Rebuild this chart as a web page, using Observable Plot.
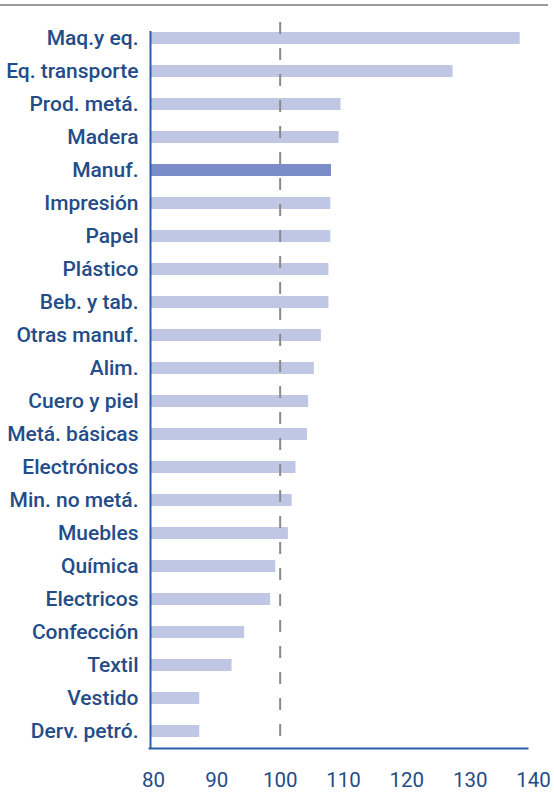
<!DOCTYPE html>
<html>
<head>
<meta charset="utf-8">
<script src="https://cdn.jsdelivr.net/npm/d3@7"></script>
<script src="https://cdn.jsdelivr.net/npm/@observablehq/plot@0.6"></script>
<style>
  html, body { margin: 0; padding: 0; background: #fff; }
  #wrap { position: relative; width: 554px; height: 794px; }
  #topline { position: absolute; left: 0; top: 4px; width: 548px; height: 2px; background: #9a9a9a; }
  #chart { position: absolute; left: 0; top: 0; }
</style>
</head>
<body>
<div id="wrap">
  <div id="topline"></div>
  <div id="chart"></div>
</div>
<script>
const categories = ["Maq.y eq.", "Eq. transporte", "Prod. metá.", "Madera", "Manuf.", "Impresión", "Papel", "Plástico", "Beb. y tab.", "Otras manuf.", "Alim.", "Cuero y piel", "Metá. básicas", "Electrónicos", "Min. no metá.", "Muebles", "Química", "Electricos", "Confección", "Textil", "Vestido", "Derv. petró."];
const values = [137.9, 127.3, 109.6, 109.3, 108.1, 108.0, 108.0, 107.7, 107.7, 106.5, 105.4, 104.5, 104.3, 102.5, 101.9, 101.3, 99.3, 98.5, 94.4, 92.4, 87.3, 87.3];
const highlight = "Manuf.";
const xTicks = [80, 90, 100, 110, 120, 130, 140];
const baseline = 80;
const reference = 100;

const data = categories.map((c, i) => ({cat: c, value: values[i], hi: c === highlight}));

const textColor = "#244c88";
const axisColor = "#2a5ea9";

const chart = Plot.plot({
  width: 554,
  height: 794,
  marginTop: 21,
  marginBottom: 46,
  marginLeft: 153,
  marginRight: 21,
  style: {fontFamily: "Roboto, sans-serif", fontWeight: 500, background: "transparent"},
  x: {domain: [80, 140], ticks: xTicks, label: null},
  y: {domain: categories, paddingInner: 0.637, paddingOuter: 0.3, label: null},
  marks: [
    Plot.barX(data, {
      x1: baseline, x2: "value", y: "cat",
      fill: d => d.hi ? "#7b8dc8" : "#bfc7e5",
      insetLeft: -3
    }),
    Plot.ruleX([reference], {stroke: "#8a8a8a", strokeWidth: 2, strokeDasharray: "12,14", insetTop: 1}),
    Plot.ruleX([baseline], {stroke: axisColor, strokeWidth: 2, dx: -3, insetTop: 10}),
    Plot.frame({anchor: "bottom", stroke: axisColor, strokeWidth: 2, insetLeft: -4, insetRight: 6}),
    Plot.axisY({tickSize: 0, tickPadding: 15, fontSize: 21, fontWeight: 500, color: textColor, label: null}),
    Plot.axisX({ticks: xTicks, tickSize: 0, tickPadding: 24, fontSize: 20.5, fontWeight: 400, color: textColor, label: null})
  ]
});
chart.querySelectorAll("text").forEach(t => t.setAttribute("fill", textColor));
document.getElementById("chart").appendChild(chart);
</script>
</body>
</html>
